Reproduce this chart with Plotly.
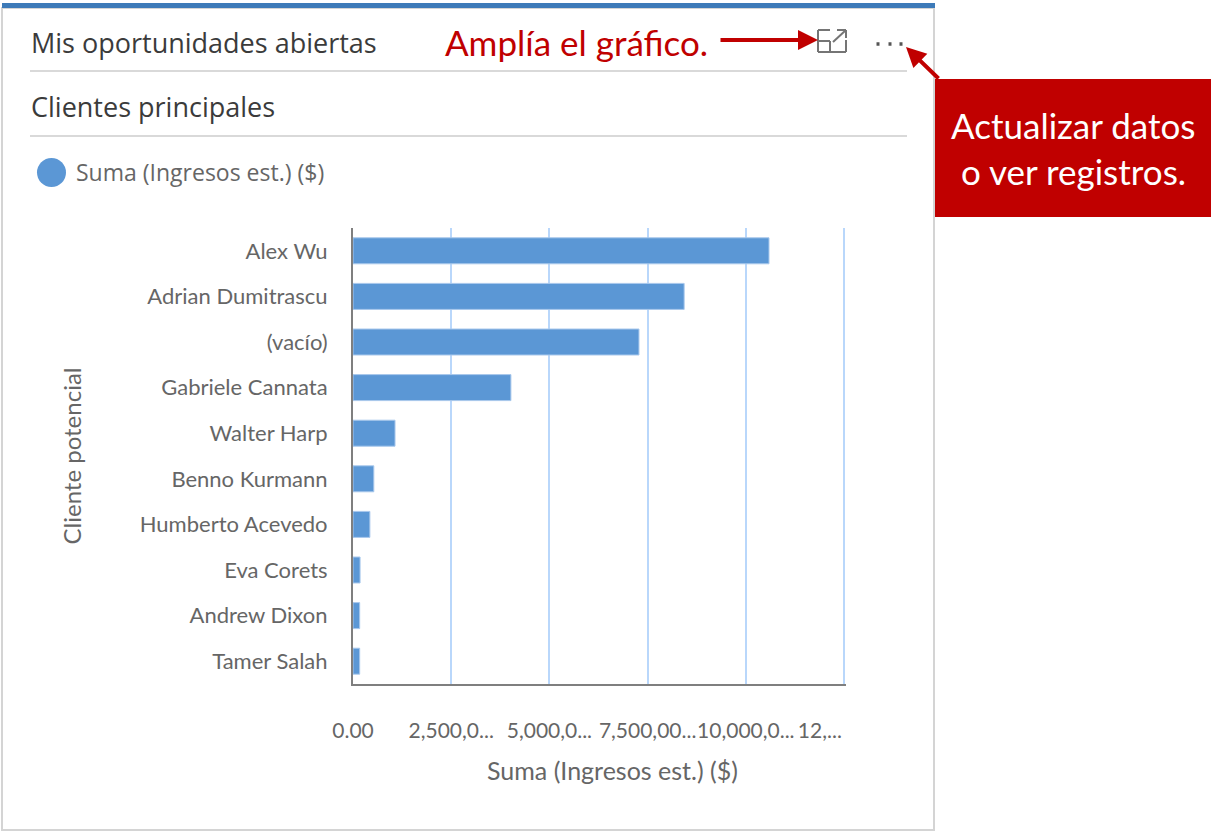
import plotly.graph_objects as go

WIDTH = 1226
HEIGHT = 832

_RED = "#C00000"
_BAR = "#5B97D5"
_GRID = "#B9D7FB"
_AXIS = "#7F7F7F"
_TEXT = "#666666"
_DARK = "#3B3B3B"
_RULE = "#D9D9D9"
_FONT = "Lato, sans-serif"
_HEAD_FONT = "Open Sans, sans-serif"

clients = [
    "Alex Wu", "Adrian Dumitrascu", "(vacío)", "Gabriele Cannata", "Walter Harp",
    "Benno Kurmann", "Humberto Acevedo", "Eva Corets", "Andrew Dixon", "Tamer Salah",
]
revenue = [10590000, 8430000, 7280000, 4020000, 1070000, 530000, 430000, 180000, 170000, 170000]
tick_values = [0, 2500000, 5000000, 7500000, 10000000, 12500000]
# trailing nbsp pulls the last, truncated label left of its gridline
tick_labels = ["0.00", "2,500,0...", "5,000,0...", "7,500,00...", "10,000,0...", "12,..." + "\u00a0" * 9]


def px(x):
    return x / WIDTH


def py(y):
    return 1 - y / HEIGHT


def rect(x0, y0, x1, y1, **kw):
    return dict(type="rect", xref="paper", yref="paper", x0=px(x0), y0=py(y0), x1=px(x1), y1=py(y1), **kw)


def seg(x0, y0, x1, y1, color=_RULE, width=2):
    return dict(type="line", xref="paper", yref="paper", x0=px(x0), y0=py(y0), x1=px(x1), y1=py(y1),
                line=dict(color=color, width=width))


def label(text, x, y, size, color=_TEXT, anchor="left", family=_FONT):
    return dict(text=text, xref="paper", yref="paper", x=px(x), y=py(y), xanchor=anchor, yanchor="middle",
                showarrow=False, font=dict(family=family, size=size, color=color))


def arrow(x0, y0, x1, y1):
    return dict(xref="paper", yref="paper", axref="pixel", ayref="pixel", x=px(x1), y=py(y1), ax=x0 - x1, ay=y0 - y1,
                text="", showarrow=True, arrowhead=2, arrowsize=1, arrowwidth=4, arrowcolor=_RED)


fig = go.Figure()

fig.add_trace(
    go.Bar(
        x=revenue,
        y=clients,
        orientation="h",
        name="Suma (Ingresos est.) ($)",
        marker=dict(color=_BAR, line=dict(color="#A9C8EC", width=1)),
        width=0.57,
    )
)

shapes = [
    # card
    rect(2, 8, 934, 830, line=dict(color="#D4D4D4", width=2), fillcolor="white", layer="below"),
    rect(2, 3, 935, 8, line=dict(width=0), fillcolor="#3D7AB8", layer="below"),
    seg(30, 71, 907, 71),
    seg(30, 136, 907, 136),
    # legend dot
    dict(type="circle", xref="paper", yref="paper", x0=px(37), y0=py(158), x1=px(66), y1=py(187),
         fillcolor=_BAR, line=dict(width=0)),
    # expand icon
    seg(830, 30, 818, 30, "#757575"),
    seg(818, 30, 818, 52, "#757575"),
    seg(818, 52, 846, 52, "#757575"),
    seg(846, 52, 846, 40, "#757575"),
    seg(818, 41, 830, 41, "#757575"),
    seg(830, 41, 830, 52, "#757575"),
    seg(833, 42, 846, 30, "#757575"),
    seg(837, 30, 846, 30, "#757575"),
    seg(846, 30, 846, 38, "#757575"),
    # menu dots
    seg(876.5, 44, 879.5, 44, "#555555", 3.5),
    seg(888.5, 44, 891.5, 44, "#555555", 3.5),
    seg(899.5, 44, 902.5, 44, "#555555", 3.5),
    # callout
    rect(935, 79, 1211, 217, line=dict(width=0), fillcolor=_RED),
]

annotations = [
    label("Mis oportunidades abiertas", 29, 43, 27, _DARK, family=_HEAD_FONT),
    label("Clientes principales", 29, 107, 27, _DARK, family=_HEAD_FONT),
    label("Suma (Ingresos est.) ($)", 74, 172, 23, family=_HEAD_FONT),
    label("Suma (Ingresos est.) ($)", 612, 770, 25, anchor="center"),
    label("Amplía el gráfico.", 443, 42, 35, _RED),
    label("Actualizar datos", 1073, 125, 35, "white", anchor="center"),
    label("o ver registros.", 1073, 171, 35, "white", anchor="center"),
    arrow(719, 40, 818, 40),
    arrow(940, 80, 906, 47),
]

fig.update_layout(
    width=WIDTH,
    height=HEIGHT,
    margin=dict(l=0, r=0, t=0, b=0),
    paper_bgcolor="white",
    plot_bgcolor="white",
    font=dict(family=_FONT, size=22, color=_TEXT),
    showlegend=False,
    shapes=shapes,
    annotations=annotations,
    xaxis=dict(
        domain=[px(353), px(846)],
        range=[0, 12550000],
        tickvals=tick_values,
        ticktext=tick_labels,
        tickangle=0,
        showgrid=True,
        gridcolor=_GRID,
        gridwidth=2,
        zeroline=False,
        showline=True,
        linecolor=_AXIS,
        linewidth=2,
        ticks="",
        ticklabelstandoff=27,
        tickfont=dict(size=21),
        automargin=False,
    ),
    yaxis=dict(
        domain=[py(684), py(228)],
        autorange="reversed",
        showgrid=False,
        zeroline=False,
        showline=True,
        linecolor=_AXIS,
        linewidth=2,
        ticks="",
        ticklabelstandoff=19,
        tickfont=dict(size=22),
        title=dict(text="Cliente potencial", font=dict(size=24), standoff=51),
        automargin=False,
    ),
)

fig.write_html("out.html", config=dict(displayModeBar=False), post_script="document.body.style.margin='0';")
